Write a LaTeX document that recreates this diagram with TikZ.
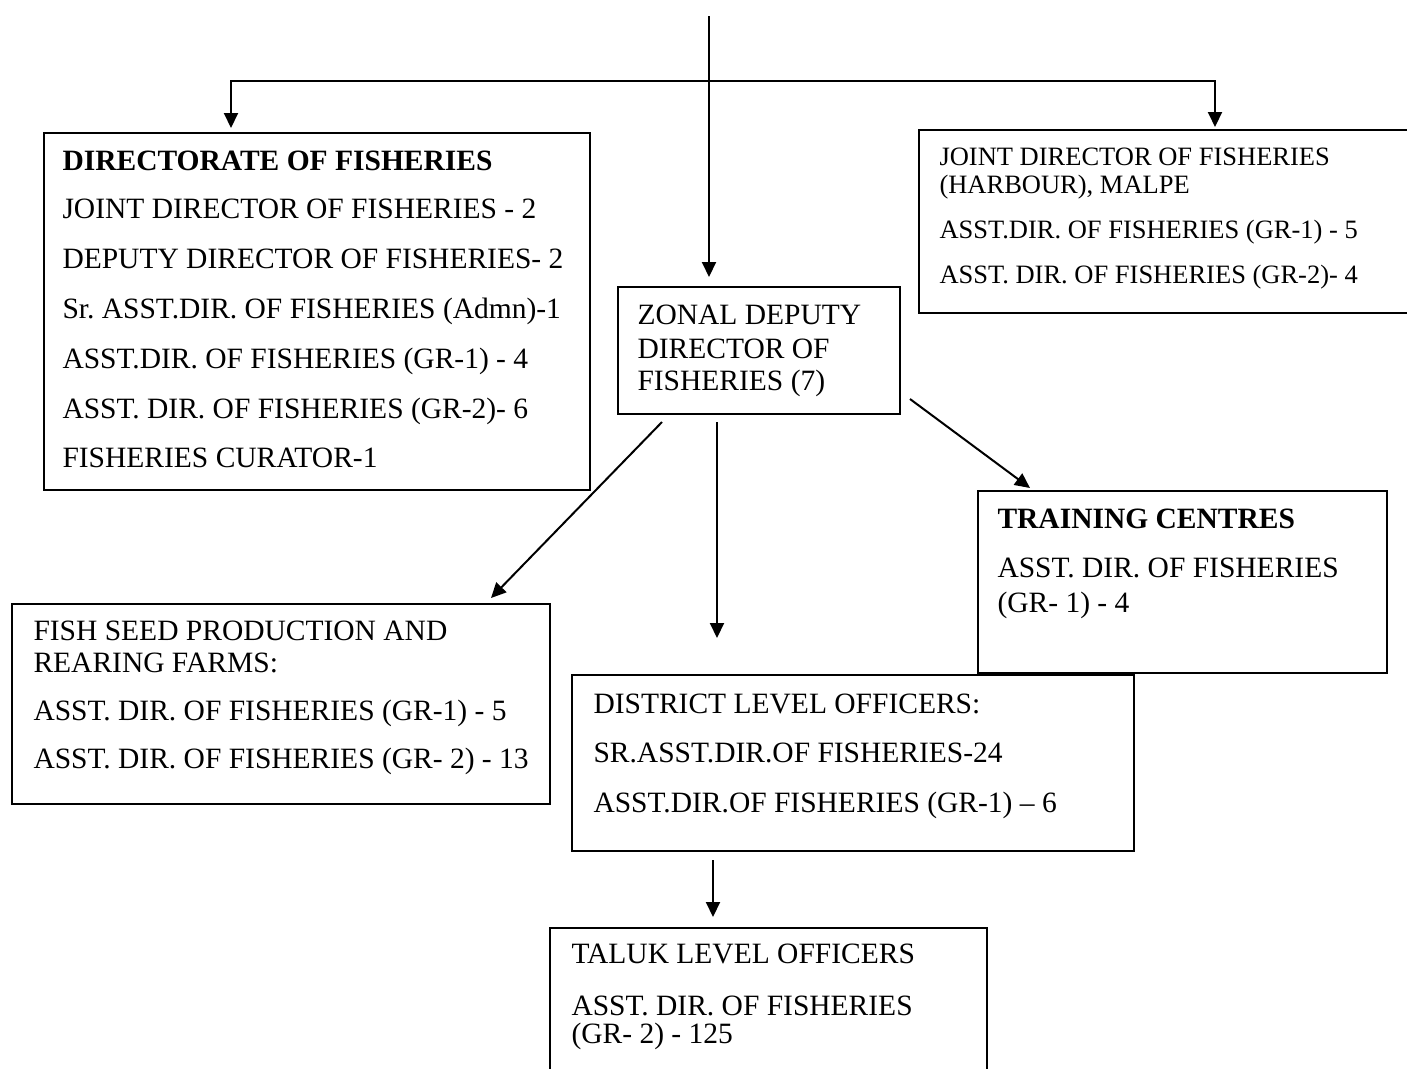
\documentclass[tikz,border=0pt]{standalone}
\usepackage{fontspec}
\setmainfont{Liberation Serif}
\usetikzlibrary{arrows.meta}
\frenchspacing
\newdimen\pxu \pxu=0.4pt
\newcommand{\boxlines}[1]{\vtop{\baselineskip=0pt\lineskip=0pt\lineskiplimit=-\maxdimen #1}}
\newcommand{\lgap}[1]{\vskip #1\pxu}
\tikzset{
  orgbox/.style 2 args={draw, line width=0.8pt, anchor=north west, inner sep=0pt, minimum width=#1*0.4pt, minimum height=#2*0.4pt},
  boxtext/.style={anchor=base west, inner sep=0pt, font=\fontsize{11.8}{13.5}\selectfont},
  link/.style={line width=0.8pt},
  arr/.style={link, -{Triangle[length=6pt,width=5.6pt]}}
}
\begin{document}
\begin{tikzpicture}[x=0.4pt, y=-0.4pt]
\useasboundingbox (0,0) rectangle (1407,1068);
\clip (0,0) rectangle (1407,1068);

\node[orgbox={546}{357}] (dir) at (43,132) {};
\node[orgbox={520}{183}] (joint) at (918,129) {};
\node[orgbox={282}{127}] (zonal) at (617,286) {};
\node[orgbox={409}{182}] (train) at (977,490) {};
\node[orgbox={538}{200}] (fish) at (11,603) {};
\node[orgbox={562}{176}] (dist) at (571,674) {};
\node[orgbox={437}{200}] (taluk) at (549,927) {};

\node[boxtext] (dirtxt) at ([shift={(19,38)}]dir.north west) {\boxlines{%
  \hbox{\textbf{DIRECTORATE OF FISHERIES}}\lgap{48}
  \hbox{JOINT DIRECTOR OF FISHERIES - 2}\lgap{50}
  \hbox{DEPUTY DIRECTOR OF FISHERIES- 2}\lgap{50}
  \hbox{Sr. ASST.DIR. OF FISHERIES (Admn)-1}\lgap{50}
  \hbox{ASST.DIR. OF FISHERIES (GR-1) - 4}\lgap{50}
  \hbox{ASST. DIR. OF FISHERIES (GR-2)- 6}\lgap{49}
  \hbox{FISHERIES CURATOR-1}}};
\node[boxtext, font=\fontsize{10.6}{12}\selectfont] (jointtxt) at ([shift={(21,36)}]joint.north west) {\boxlines{%
  \hbox{JOINT DIRECTOR OF FISHERIES}\lgap{28}
  \hbox{(HARBOUR), MALPE}\lgap{45}
  \hbox{ASST.DIR. OF FISHERIES (GR-1) - 5}\lgap{45}
  \hbox{ASST. DIR. OF FISHERIES (GR-2)- 4}}};
\node[boxtext] (zonaltxt) at ([shift={(20,38)}]zonal.north west) {\boxlines{%
  \hbox{ZONAL DEPUTY}\lgap{34}
  \hbox{DIRECTOR OF}\lgap{32}
  \hbox{FISHERIES (7)}}};
\node[boxtext] (traintxt) at ([shift={(20,38)}]train.north west) {\boxlines{%
  \hbox{\textbf{TRAINING CENTRES}}\lgap{49}
  \hbox{ASST. DIR. OF FISHERIES}\lgap{35}
  \hbox{(GR- 1) - 4}}};
\node[boxtext] (fishtxt) at ([shift={(22,37)}]fish.north west) {\boxlines{%
  \hbox{FISH SEED PRODUCTION AND}\lgap{32}
  \hbox{REARING FARMS:}\lgap{48}
  \hbox{ASST. DIR. OF FISHERIES (GR-1) - 5}\lgap{48}
  \hbox{ASST. DIR. OF FISHERIES (GR- 2) - 13}}};
\node[boxtext] (disttxt) at ([shift={(22,39)}]dist.north west) {\boxlines{%
  \hbox{DISTRICT LEVEL OFFICERS:}\lgap{49}
  \hbox{SR.ASST.DIR.OF FISHERIES-24}\lgap{50}
  \hbox{ASST.DIR.OF FISHERIES (GR-1) – 6}}};
\node[boxtext] (taluktxt) at ([shift={(22,36)}]taluk.north west) {\boxlines{%
  \hbox{TALUK LEVEL OFFICERS}\lgap{52}
  \hbox{ASST. DIR. OF FISHERIES}\lgap{28}
  \hbox{(GR- 2) - 125}}};

\coordinate (top) at (709,16);
\coordinate (hub) at (709,81);
\draw[arr] (top) -- ([shift={(92,-9)}]zonal.north west);
\draw[arr] (hub) -| ([shift={(188,-4)}]dir.north west);
\draw[arr] (hub) -| ([shift={(297,-2)}]joint.north west);
\draw[arr] ([shift={(45,7)}]zonal.south west) -- ([shift={(480,-5)}]fish.north west);
\draw[arr] ([shift={(100,7)}]zonal.south west) -- ([shift={(146,-36)}]dist.north west);
\draw[arr] ([shift={(9,-16)}]zonal.south east) -- ([shift={(53,-2)}]train.north west);
\draw[arr] ([shift={(142,8)}]dist.south west) -- ([shift={(164,-10)}]taluk.north west);
\end{tikzpicture}
\end{document}
